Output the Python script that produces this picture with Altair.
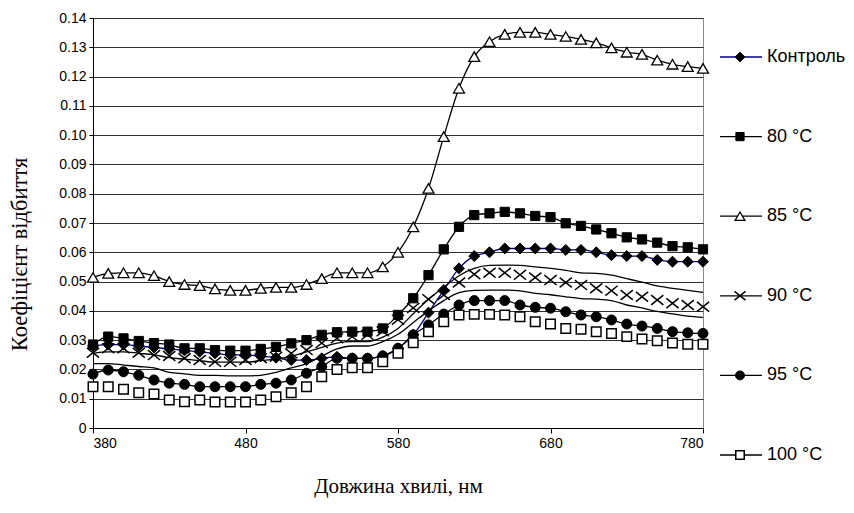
import altair as alt
import pandas as pd

# ---------------- data ----------------
wavelength = [380, 390, 400, 410, 420, 430, 440, 450, 460, 470, 480, 490, 500, 510,
              520, 530, 540, 550, 560, 570, 580, 590, 600, 610, 620, 630, 640, 650,
              660, 670, 680, 690, 700, 710, 720, 730, 740, 750, 760, 770, 780]

control = [0.028, 0.0285, 0.0285, 0.028, 0.0275, 0.027, 0.0265, 0.026, 0.0255, 0.025,
           0.025, 0.0245, 0.024, 0.0232, 0.0232, 0.0238, 0.0243, 0.0238, 0.0238, 0.0246,
           0.0272, 0.0318, 0.0394, 0.0471, 0.0545, 0.0587, 0.060, 0.0613, 0.0613, 0.0613,
           0.0613, 0.0608, 0.0608, 0.060, 0.059, 0.0587, 0.0587, 0.0574, 0.0568, 0.0568, 0.0568]

t80 = [0.0285, 0.0312, 0.0306, 0.0297, 0.029, 0.0285, 0.0272, 0.0272, 0.0266, 0.0264,
       0.0264, 0.027, 0.0277, 0.0289, 0.030, 0.0318, 0.0327, 0.0329, 0.0329, 0.034,
       0.0386, 0.0443, 0.0522, 0.061, 0.0687, 0.0727, 0.0733, 0.0738, 0.0733, 0.0724,
       0.072, 0.0699, 0.069, 0.0678, 0.0665, 0.0651, 0.0644, 0.0633, 0.0621, 0.0617, 0.061]

t85 = [0.0514, 0.0528, 0.053, 0.053, 0.052, 0.050, 0.049, 0.0486, 0.0475, 0.047,
       0.047, 0.0477, 0.048, 0.048, 0.049, 0.051, 0.053, 0.053, 0.053, 0.055,
       0.060, 0.0687, 0.0818, 0.0995, 0.116, 0.1268, 0.1319, 0.1344, 0.1351, 0.1351,
       0.1344, 0.1337, 0.1327, 0.1315, 0.1298, 0.1283, 0.1276, 0.1256, 0.1242, 0.1234, 0.1228]

t90 = [0.0257, 0.0272, 0.0272, 0.0257, 0.0249, 0.0246, 0.0238, 0.0232, 0.0226, 0.0226,
       0.0232, 0.0238, 0.0243, 0.0255, 0.0266, 0.029, 0.0306, 0.0312, 0.0318, 0.033,
       0.037, 0.041, 0.044, 0.0454, 0.0497, 0.0525, 0.053, 0.053, 0.0523, 0.0514,
       0.0505, 0.0497, 0.0488, 0.0477, 0.0469, 0.0454, 0.0448, 0.0437, 0.0426, 0.042, 0.0414]

t95 = [0.0184, 0.0198, 0.0192, 0.018, 0.0164, 0.0153, 0.0149, 0.0141, 0.0141, 0.0141,
       0.0141, 0.0149, 0.0153, 0.0164, 0.0187, 0.0209, 0.0238, 0.0238, 0.0238, 0.0246,
       0.0272, 0.0318, 0.0352, 0.0389, 0.042, 0.0435, 0.0435, 0.0435, 0.042, 0.0412,
       0.0409, 0.0397, 0.0386, 0.038, 0.0369, 0.0355, 0.0348, 0.034, 0.0329, 0.0325, 0.0323]

t100 = [0.0141, 0.0141, 0.0132, 0.012, 0.0116, 0.0096, 0.009, 0.0096, 0.0089, 0.0089,
        0.0089, 0.0096, 0.0107, 0.012, 0.0141, 0.0175, 0.020, 0.0206, 0.0206, 0.0226,
        0.0255, 0.0291, 0.0329, 0.0363, 0.0386, 0.0388, 0.0388, 0.0386, 0.038, 0.0363,
        0.0355, 0.034, 0.0337, 0.0329, 0.0323, 0.0312, 0.0304, 0.0298, 0.029, 0.0286, 0.0286]

# two smoothed curves drawn without markers
curve_upper = [0.0255, 0.026, 0.026, 0.0255, 0.025, 0.024, 0.0235, 0.023, 0.0225, 0.0225,
               0.0225, 0.023, 0.0235, 0.0245, 0.026, 0.0275, 0.029, 0.0295, 0.0295, 0.031,
               0.034, 0.039, 0.044, 0.048, 0.052, 0.0545, 0.0555, 0.0556, 0.0555, 0.055,
               0.0545, 0.0538, 0.053, 0.0528, 0.0522, 0.051, 0.0498, 0.0485, 0.0477, 0.047, 0.0463]

curve_lower = [0.022, 0.022, 0.0215, 0.021, 0.0205, 0.019, 0.0185, 0.018, 0.018, 0.0178,
               0.0178, 0.018, 0.019, 0.0205, 0.022, 0.0245, 0.027, 0.028, 0.028, 0.0295,
               0.032, 0.036, 0.040, 0.0435, 0.0462, 0.047, 0.0471, 0.0471, 0.0468, 0.046,
               0.0455, 0.0448, 0.0442, 0.044, 0.0435, 0.042, 0.041, 0.0398, 0.039, 0.0382, 0.0378]

series_names = ["Контроль", "80 °C", "85 °C", "90 °C", "95 °C", "100 °C"]
x_ticks = [380, 480, 580, 680, 780]
y_ticks = [0, 0.01, 0.02, 0.03, 0.04, 0.05, 0.06, 0.07, 0.08, 0.09, 0.10, 0.11, 0.12, 0.13, 0.14]

# ---------------- styles ----------------
X_PATH = "M-1,-0.8L1,0.8M-1,0.8L1,-0.8"
styles = {
    "Контроль": dict(line="#000080", shape="diamond", size=120, fill="black", sw=1),
    "80 °C": dict(line="black", shape="square", size=85, fill="black", sw=1),
    "85 °C": dict(line="black", shape="triangle-up", size=120, fill="white", sw=1.3),
    "90 °C": dict(line=None, shape=X_PATH, size=150, fill="transparent", sw=1.5),
    "95 °C": dict(line="black", shape="circle", size=100, fill="black", sw=1),
    "100 °C": dict(line=None, shape="square", size=90, fill="white", sw=1.5),
}
values = {"Контроль": control, "80 °C": t80, "85 °C": t85,
          "90 °C": t90, "95 °C": t95, "100 °C": t100}

x_enc = alt.X("wl:Q", scale=alt.Scale(domain=[380, 780], nice=False, zero=False),
              axis=alt.Axis(values=x_ticks, grid=False, title="Довжина хвилі, нм",
                            tickSize=5, labelPadding=3, titlePadding=25, format="d",
                            titleFontSize=21))
y_enc = alt.Y("v:Q", scale=alt.Scale(domain=[0, 0.14], nice=False),
              axis=alt.Axis(values=y_ticks, grid=True, title="Коефіцієнт відбиття",
                            tickSize=4, labelPadding=3, titlePadding=27, titleFontSize=22.5,
                            titleY=236,
                            labelExpr="datum.value == 0 ? '0' : format(datum.value, '.2f')",
                            gridColor="#303030", gridWidth=1))


def frame(vals, name):
    return pd.DataFrame({"wl": wavelength, "v": vals, "series": name})


layers = []
for name in series_names:
    st = styles[name]
    df = frame(values[name], name)
    if st["line"] is not None:
        layers.append(alt.Chart(df).mark_line(interpolate="monotone", color=st["line"],
                                              strokeWidth=1.3).encode(x=x_enc, y=y_enc))
    if name == "90 °C":
        layers.append(alt.Chart(frame(curve_upper, "upper")).mark_line(
            interpolate="monotone", color="black", strokeWidth=1.3).encode(x=x_enc, y=y_enc))
    if name == "100 °C":
        layers.append(alt.Chart(frame(curve_lower, "lower")).mark_line(
            interpolate="monotone", color="black", strokeWidth=1.3).encode(x=x_enc, y=y_enc))
    layers.append(alt.Chart(df).mark_point(shape=st["shape"], size=st["size"], filled=True,
                                           fill=st["fill"], stroke="black",
                                           strokeWidth=st["sw"], opacity=1).encode(x=x_enc, y=y_enc))

main = alt.layer(*layers)

# ---------------- legend ----------------
leg_y = alt.Y("series:N", scale=alt.Scale(type="point", domain=series_names,
                                          range=[39, 437], padding=0), axis=None)
leg_layers = []
for name in series_names:
    st = styles[name]
    ldf = pd.DataFrame({"series": [name]})
    leg_layers.append(alt.Chart(ldf).mark_rule(color=st["line"] or "black", strokeWidth=1.3)
                      .encode(x=alt.value(627), x2=alt.value(669), y=leg_y))
    leg_layers.append(alt.Chart(ldf).mark_point(shape=st["shape"], size=st["size"] * 0.8,
                                                filled=True, fill=st["fill"], stroke="black",
                                                strokeWidth=st["sw"], opacity=1)
                      .encode(x=alt.value(647), y=leg_y))
    leg_layers.append(alt.Chart(ldf).mark_text(align="left", baseline="middle",
                                               font="Liberation Sans", fontSize=18,
                                               color="black")
                      .encode(x=alt.value(674), y=leg_y, text="series:N"))
legend = alt.layer(*leg_layers)

chart = (alt.layer(main, legend)
         .resolve_scale(y="independent")
         .properties(width=610, height=410,
                     autosize=alt.AutoSizeParams(type="none"),
                     padding={"left": 93, "top": 18, "right": 151, "bottom": 85},
                     background="white")
         .configure_view(stroke="#8a8a8a", strokeWidth=1)
         .configure_axis(labelFont="Liberation Sans", labelFontSize=14, labelColor="black",
                         titleFont="Liberation Serif",
                         titleFontWeight="normal", titleColor="black",
                         domainColor="black", tickColor="black", domainWidth=1))

chart.save("out.html", embed_options={"renderer": "svg", "actions": False})
